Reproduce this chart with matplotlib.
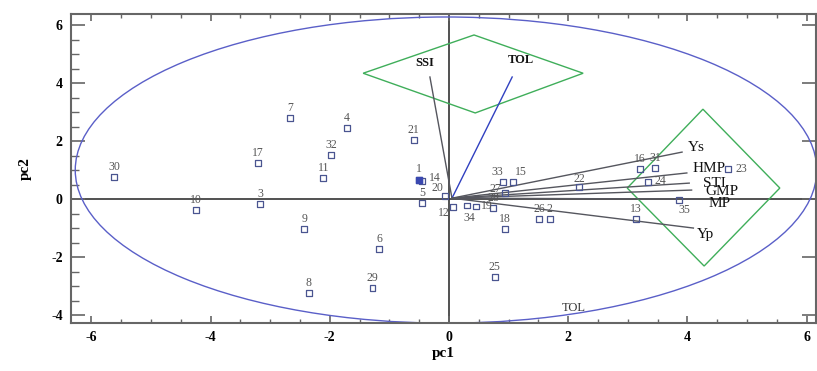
import matplotlib
matplotlib.use("Agg")
import matplotlib.pyplot as plt
from matplotlib.patches import Ellipse, Polygon
from matplotlib.ticker import MultipleLocator

plt.rcParams['font.family'] = ['Liberation Serif', 'DejaVu Serif']
plt.rcParams['axes.unicode_minus'] = False

# genotype scores
geno_ids = [str(i) for i in range(1, 36)]
pc1 = [-0.50, 1.69, -3.17, -1.71, -0.45, -1.17, -2.67, -2.35, -2.43, -4.24,
       -2.11, 0.07, 3.14, -0.45, 1.07, 3.20, -3.20, 0.94, 0.45, -0.07,
       -0.59, 2.18, 4.68, 3.34, 0.77, 1.51, 0.94, 0.74, -1.28, -5.62,
       3.46, -1.98, 0.91, 0.30, 3.86]
pc2 = [0.66, -0.69, -0.17, 2.45, -0.14, -1.72, 2.79, -3.24, -1.03, -0.38,
       0.72, -0.28, -0.69, 0.62, 0.59, 1.03, 1.24, -1.03, -0.25, 0.10,
       2.03, 0.41, 1.03, 0.59, -2.69, -0.69, 0.21, -0.31, -3.07, 0.76,
       1.07, 1.52, 0.59, -0.22, -0.03]

# index vectors
vec_names = ['SSI', 'TOL', 'Ys', 'HMP', 'STI', 'GMP', 'MP', 'Yp']
vec_x = [-0.32, 1.06, 3.91, 3.99, 4.03, 4.07, 4.16, 4.10]
vec_y = [4.21, 4.21, 1.62, 0.90, 0.55, 0.31, 0.00, -1.00]

# green group outlines
diamond1_x = [-1.44, 0.42, 2.25, 0.44]
diamond1_y = [4.34, 5.66, 4.34, 2.97]
diamond2_x = [2.99, 4.26, 5.55, 4.28]
diamond2_y = [0.38, 3.10, 0.38, -2.31]

# confidence ellipse
ell_center = (-0.05, 1.0)
ell_width = 12.44
ell_height = 10.56

fig = plt.figure(figsize=(8.17, 3.71), dpi=100)
ax = fig.add_axes([0.087, 0.129, 0.912, 0.833])
ax.set_xlim(-6.34, 6.16)
ax.set_ylim(-4.28, 6.38)

# zero lines
ax.axhline(0, color='#333333', lw=1.2, zorder=1)
ax.axvline(0, color='#333333', lw=1.2, zorder=1)

# ellipse
ax.add_patch(Ellipse(ell_center, ell_width, ell_height, fill=False,
                     edgecolor='#5a5fc8', lw=1.0, zorder=2))

# diamonds
ax.add_patch(Polygon(list(zip(diamond1_x, diamond1_y)), closed=True, fill=False,
                     edgecolor='#3fae5a', lw=1.0, zorder=2))
ax.add_patch(Polygon(list(zip(diamond2_x, diamond2_y)), closed=True, fill=False,
                     edgecolor='#3fae5a', lw=1.0, zorder=2))

# vectors
vec_colors = {'TOL': '#3040c0'}
vec_label_off = {'SSI': (-4, 10), 'TOL': (6, 12), 'Ys': (10, 3), 'HMP': (16, 3),
                 'STI': (18, 0), 'GMP': (22, -1), 'MP': (16, -3), 'Yp': (9, -5)}
for n, x, y in zip(vec_names, vec_x, vec_y):
    c = vec_colors.get(n, '#55565e')
    ax.plot([0.05, x], [0.03, y], color=c, lw=1.0, zorder=3)
    dx, dy = vec_label_off[n]
    fs = 9 if n in ('SSI', 'TOL') else 11
    ax.annotate(n, (x, y), xytext=(dx, dy), textcoords='offset points',
                ha='center', va='center', fontsize=fs,
                fontweight='bold' if n in ('SSI', 'TOL') else 'normal',
                color='#111111', zorder=5)

# stray TOL label at bottom
ax.text(2.1, -3.75, 'TOL', fontsize=9, color='#333333', ha='center', va='center')

# points
ax.scatter(pc1, pc2, marker='s', s=16, facecolors='none',
           edgecolors='#4a5590', linewidths=0.9, zorder=4)
ax.scatter([pc1[0]], [pc2[0]], marker='s', s=16, color='#3a48b0', zorder=4)

label_off = {'14': (9, 2), '20': (-5, 6), '12': (-7, -4), '19': (8, 0),
             '34': (2, -9), '24': (9, 1), '23': (10, 0), '35': (4, -7),
             '22': (0, 6), '1': (0, 8), '33': (-4, 7), '15': (6, 7),
             '27': (-7, 3)}
for gid, x, y in zip(geno_ids, pc1, pc2):
    dx, dy = label_off.get(gid, (0, 7))
    ax.annotate(gid, (x, y), xytext=(dx, dy), textcoords='offset points',
                ha='center', va='center', fontsize=8.5, color='#555555', zorder=5)

# axes styling
ax.xaxis.set_major_locator(MultipleLocator(2))
ax.xaxis.set_minor_locator(MultipleLocator(0.5))
ax.yaxis.set_major_locator(MultipleLocator(2))
ax.yaxis.set_minor_locator(MultipleLocator(0.5))
ax.tick_params(which='both', direction='in', top=True, right=True, color='#666666')
ax.tick_params(axis='y', which='major', length=10, width=1.2)
ax.tick_params(axis='y', which='minor', length=6, width=1.0)
ax.tick_params(axis='x', which='major', length=5, width=1.2)
ax.tick_params(axis='x', which='minor', length=3, width=1.0)
ax.tick_params(axis='y', which='minor', right=False)
for lab in ax.get_xticklabels() + ax.get_yticklabels():
    lab.set_fontweight('bold')
    lab.set_fontsize(10)
ax.tick_params(axis='both', pad=6)
for s in ax.spines.values():
    s.set_color('#666666')
    s.set_linewidth(1.5)

ax.set_xlabel('pc1', fontsize=11, fontweight='bold', labelpad=2)
ax.set_ylabel('pc2', fontsize=11, fontweight='bold', labelpad=14)

fig.savefig('out.png', dpi=100)
